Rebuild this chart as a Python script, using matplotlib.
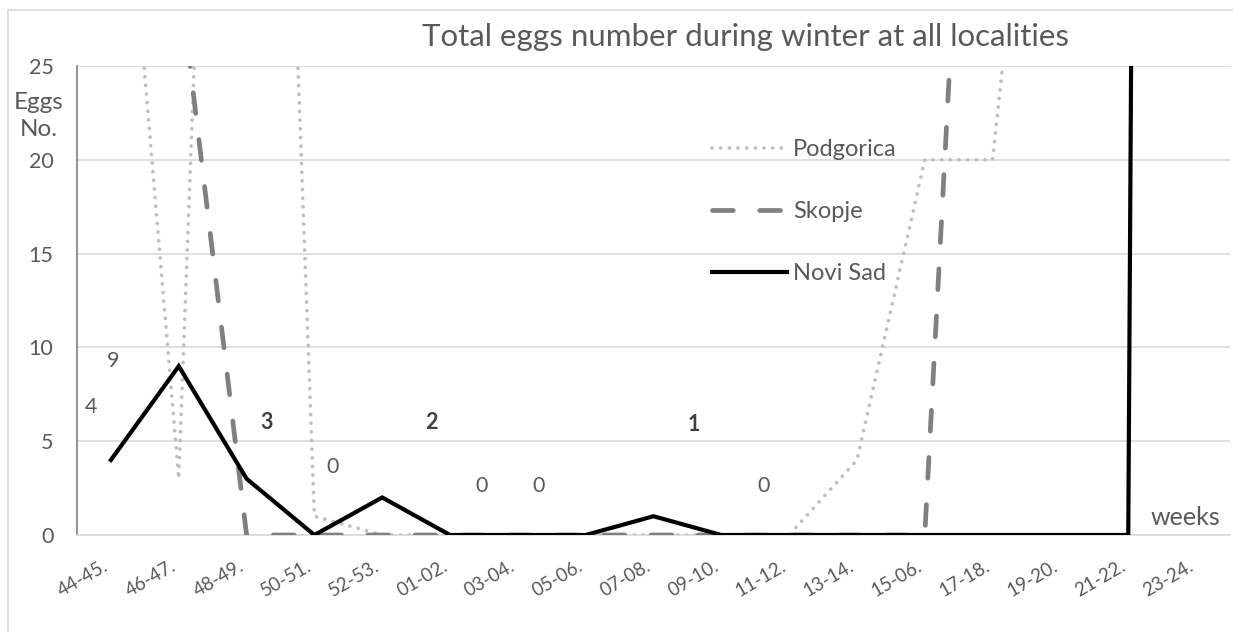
import numpy as np
import matplotlib
matplotlib.use("Agg")
import matplotlib.pyplot as plt
from matplotlib.patches import Rectangle
import matplotlib.transforms as mtransforms

plt.rcParams['font.family'] = ['Lato', 'DejaVu Sans']

weeks = ['44-45.', '46-47.', '48-49.', '50-51.', '52-53.', '01-02.', '03-04.',
         '05-06.', '07-08.', '09-10.', '11-12.', '13-14.', '15-06.', '17-18.',
         '19-20.', '21-22.', '23-24.']

podgorica = [46, 3, 100, 1, 0, 0, 0, 0, 0, 0, 0, 4, 20, 20, 54, 80, 100]
skopje = [40, 30, 0, 0, 0, 0, 0, 0, 0, 0, 0, 0, 0, 68, 70, 55, 40]
novi_sad = [4, 9, 3, 0, 2, 0, 0, 0, 1, 0, 0, 0, 0, 0, 0, 0, 600]

# which Novi Sad points got a label, and where the label was dragged to
label_idx = [0, 1, 2, 3, 4, 5, 6, 8, 9]
label_xy = [(-0.3, 6.8), (0.04, 9.3), (2.3, 6.0), (3.27, 3.6), (4.73, 6.0),
            (5.47, 2.6), (6.3, 2.6), (8.59, 5.9), (9.62, 2.6)]
bold_labels = [2, 4, 8]

W, H = 1233, 632
fig = plt.figure(figsize=(W / 100, H / 100), dpi=100)
ax = fig.add_axes([77 / W, 1 - 535 / H, 1153 / W, (535 - 66) / H])

# chart area border (cut at right / bottom)
fig.patches.append(Rectangle((8 / W, -0.1), 1.2, 1 - 10 / H + 0.1,
                             transform=fig.transFigure, fill=False,
                             edgecolor='#d9d9d9', lw=1.2))

x = np.arange(len(weeks))
ax.plot(x, podgorica, color='#bfbfbf', lw=2.7, linestyle=(0, (0.01, 2.3)),
        dash_capstyle='round', label='Podgorica', zorder=3)
ax.plot(x, skopje, color='#808080', lw=3.4, linestyle=(0, (4.4, 5.6)),
        dash_capstyle='round', label='Skopje', zorder=4)
ax.plot(x, novi_sad, color='black', lw=3.0, label='Novi Sad', zorder=5,
        solid_joinstyle='miter')

for k, i in enumerate(label_idx):
    lx, ly = label_xy[k]
    bold = i in bold_labels
    ax.text(lx, ly, str(novi_sad[i]), ha='center', va='center',
            fontsize=15.5, color='#404040' if bold else '#595959',
            fontweight='bold' if bold else 'normal', zorder=6)

ax.set_xlim(-0.5, len(weeks) - 0.5)
ax.set_ylim(0, 25)
ax.set_yticks([0, 5, 10, 15, 20, 25])
ax.set_xticks(x)
ax.set_xticklabels(weeks, rotation=30, ha='right', fontsize=13.5, color='#595959')
offset = mtransforms.ScaledTranslation(5 / 100, 0, fig.dpi_scale_trans)
for lab in ax.get_xticklabels():
    lab.set_transform(lab.get_transform() + offset)
ax.tick_params(axis='x', length=0, pad=16)
ax.tick_params(axis='y', length=0, pad=17, labelsize=15.5, labelcolor='#595959')

ax.grid(axis='y', color='#d9d9d9', lw=1.2)
ax.set_axisbelow(True)
for s in ['top', 'right']:
    ax.spines[s].set_visible(False)
ax.spines['bottom'].set_color('#d9d9d9')
ax.spines['bottom'].set_linewidth(1.2)
ax.spines['left'].set_color('#808080')
ax.spines['left'].set_linewidth(1.2)

fig.text(746 / W, 1 - 37 / H, 'Total eggs number during winter at all localities',
         ha='center', va='center', fontsize=22.5, color='#595959')
fig.text(39 / W, 1 - 116 / H, 'Eggs\nNo.', ha='center', va='center',
         fontsize=17.5, color='#595959', linespacing=1.4)
ax.text(15.85, 0.95, 'weeks', ha='center', va='center', fontsize=18, color='#595959')

leg = ax.legend(loc='upper left', bbox_to_anchor=(623 / 1153, 1 - 61 / 469),
                frameon=False, fontsize=17, handlelength=3.2, handletextpad=0.25,
                labelspacing=1.75, borderpad=0)
for t in leg.get_texts():
    t.set_color('#595959')

fig.savefig('out.png', dpi=100)
